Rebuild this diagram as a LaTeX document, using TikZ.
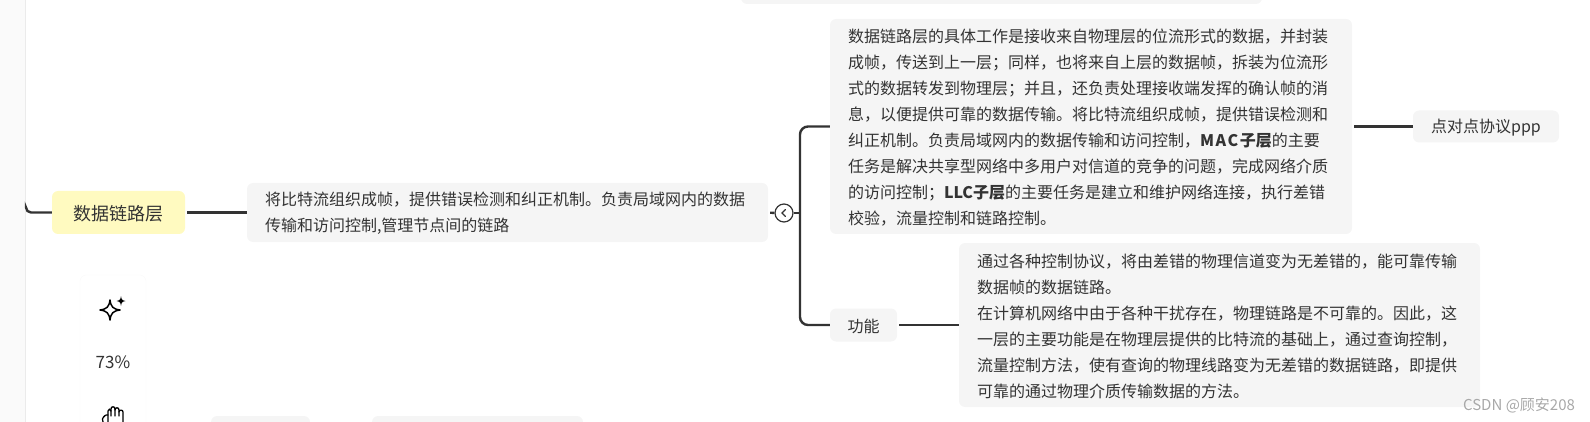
\documentclass[tikz,border=0pt]{standalone}
\usepackage{fontspec}
\setmainfont{Noto Sans CJK SC}
\usepackage{xcolor}
\usetikzlibrary{positioning}

\definecolor{boxgray}{HTML}{F5F5F5}
\definecolor{rootyellow}{HTML}{FFFAC0}
\definecolor{stripgray}{HTML}{FAFAFA}
\definecolor{textdark}{HTML}{333333}
\definecolor{linkdark}{HTML}{333333}
\definecolor{markgray}{HTML}{A8A8A8}

\begin{document}
\begin{tikzpicture}[
    x=1pt, y=-1pt,
    block/.style={rectangle, fill=boxgray, rounded corners=6pt, text=textdark, inner ysep=0pt, inner xsep=18pt, align=left, font=\fontsize{16}{26}\selectfont, execute at begin node={\rule{0pt}{1em}}},
    textblock/.style={block, text width=#1},
    labelblock/.style={block, align=center, inner xsep=0pt},
    link/.style={draw=linkdark, line width=2.4pt},
    icon/.style={draw=black, line width=1.5pt, line join=round, line cap=round}
]
\useasboundingbox (0, 0) rectangle (1590, 422);
\clip (0, 0) rectangle (1590, 422);

% Left strip
\fill[stripgray] (0, 0) rectangle (25, 422);
\draw[black!8] (25, 0) -- (25, 422);

% Cut off boxes
\node[rectangle, fill=boxgray, rounded corners=6pt, minimum width=521pt, minimum height=30pt] (topbox) at (1001.5, -11) {};
\node[rectangle, fill=boxgray, rounded corners=6pt, minimum width=99pt, minimum height=30pt] (lowleft) at (260.5, 431) {};
\node[rectangle, fill=boxgray, rounded corners=6pt, minimum width=211pt, minimum height=30pt] (lowright) at (477.5, 431) {};

% Nodes
\node[labelblock, fill=rootyellow, font=\fontsize{18}{22}\selectfont, minimum width=133pt, minimum height=43pt] (layer) at (118.5, 212.5) {数据链路层};
\node[textblock=485pt, minimum height=59pt] (summary) at (507.5, 212.5) {将比特流组织成帧，提供错误检测和纠正机制。负责局域网内的数据\\传输和访问控制,管理节点间的链路};
\node[circle, draw=linkdark, fill=white, line width=1.2pt, minimum size=18pt, inner sep=0pt] (toggle) at (784, 213) {};
\coordinate (trunk) at (800, 213);
\node[textblock=486pt, minimum height=215pt] (detail) at (1091, 126.5) {数据链路层的具体工作是接收来自物理层的位流形式的数据，并封装\\
成帧，传送到上一层；同样，也将来自上层的数据帧，拆装为位流形\\
式的数据转发到物理层；并且，还负责处理接收端发挥的确认帧的消\\
息，以便提供可靠的数据传输。将比特流组织成帧，提供错误检测和\\
纠正机制。负责局域网内的数据传输和访问控制，\textbf{M\kern1.5pt A\kern1.5pt C\kern1.5pt 子层}的主要\\
任务是解决共享型网络中多用户对信道的竞争的问题，完成网络介质\\
的访问控制；\textbf{LLC子层}的主要任务是建立和维护网络连接，执行差错\\
校验，流量控制和链路控制。};
\node[labelblock, minimum width=146pt, minimum height=32pt] (ppp) at (1486, 126.5) {点对点协议ppp};
\node[labelblock, minimum width=67pt, minimum height=33pt] (func) at (863.5, 325) {功能};
\node[textblock=485pt, minimum height=164pt] (funcdetail) at (1219.5, 325) {通过各种控制协议，将由差错的物理信道变为无差错的，能可靠传输\\
数据帧的数据链路。\\
在计算机网络中由于各种干扰存在，物理链路是不可靠的。因此，这\\
一层的主要功能是在物理层提供的比特流的基础上，通过查询控制，\\
流量控制方法，使有查询的物理线路变为无差错的数据链路，即提供\\
可靠的通过物理介质传输数据的方法。};
\coordinate (parent) at (26, 208);

% Arrows
\draw[link, rounded corners=5pt] (parent) |- (layer.west);
\draw[link, shorten <=2pt] (layer.east) -- (summary.west);
\draw[link, shorten <=2pt] (summary.east) -- (toggle.west);
\draw[link] (toggle.east) -- (trunk);
\draw[link, rounded corners=8pt] (detail.west) -| (trunk) |- (func.west);
\draw[link, shorten <=2pt] (detail.east) -- (ppp.west);
\draw[link, shorten <=2pt] (func.east) -- (funcdetail.west);

% Toggle mark
\draw[draw=linkdark, line width=1.3pt, line cap=round] ([xshift=1.5pt, yshift=-3.5pt]toggle.center) -- ([xshift=-2pt]toggle.center) -- ([xshift=1.5pt, yshift=3.5pt]toggle.center);

% Toolbar
\node[rectangle, fill=white, draw=black!2, rounded corners=6pt, minimum width=66pt, minimum height=200pt] (toolbar) at (113, 375) {};
\node[text=textdark, font=\fontsize{17}{20}\selectfont] (zoomvalue) at (113, 362) {73\%};
\draw[icon] (110, 300) .. controls (111, 307) and (113, 309) .. (120, 310) .. controls (113, 311) and (111, 313) .. (110, 320) .. controls (109, 313) and (107, 311) .. (100, 310) .. controls (107, 309) and (109, 307) .. (110, 300) -- cycle;
\fill[black] (121, 296) .. controls (121.4, 299.5) and (122, 300.3) .. (125.5, 301) .. controls (122, 301.7) and (121.4, 302.5) .. (121, 306) .. controls (120.6, 302.5) and (120, 301.7) .. (116.5, 301) .. controls (120, 300.3) and (120.6, 299.5) .. (121, 296) -- cycle;
\draw[icon, line width=1.3pt] (103, 422) -- (102.5, 419) .. controls (103, 417) and (106, 414) .. (108, 415);
\draw[icon, line width=1.3pt] (108, 424) -- (108, 411) .. controls (108, 408.5) and (111, 408.5) .. (111, 411) -- (111, 416);
\draw[icon, line width=1.3pt] (111, 411) -- (111, 409) .. controls (111, 406) and (115, 406) .. (115, 409) -- (115, 416);
\draw[icon, line width=1.3pt] (115, 410) .. controls (115, 407) and (119, 407) .. (119, 410) -- (119, 416);
\draw[icon, line width=1.3pt] (119, 412) .. controls (119, 409.5) and (123, 409.5) .. (123, 412) -- (123, 424);

% Watermark
\node[text=markgray, inner sep=0pt, font=\fontsize{15}{18}\selectfont] (watermark) at (1519, 405) {CSDN @顾安208};

\end{tikzpicture}
\end{document}
